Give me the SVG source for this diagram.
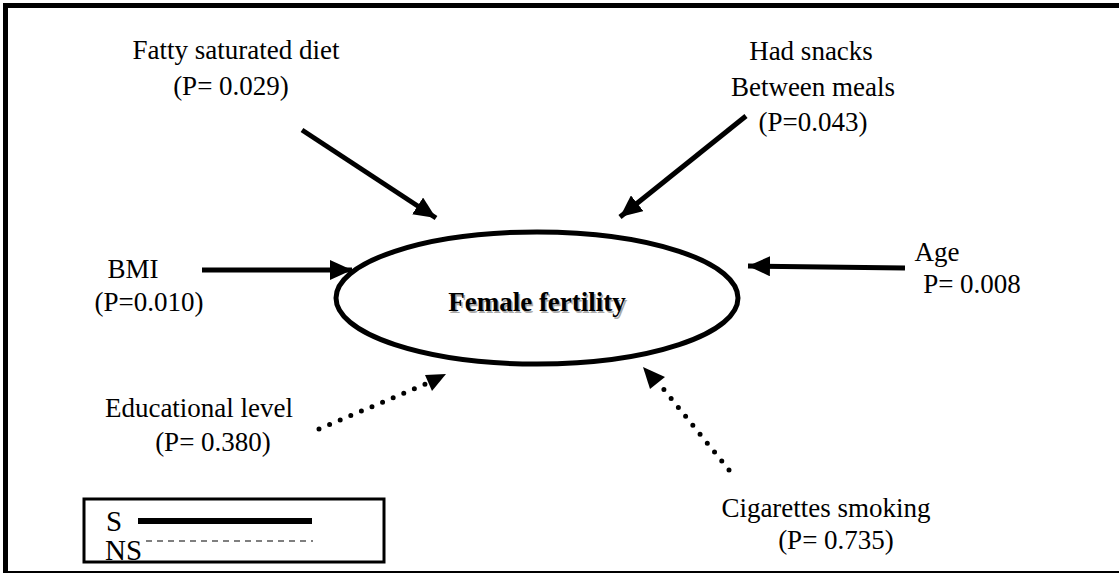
<svg xmlns="http://www.w3.org/2000/svg" width="1119" height="573" viewBox="0 0 1119 573">
<style>
text{font-family:"Liberation Serif","Times New Roman",Times,"DejaVu Serif",serif;font-size:27px;fill:#000}
.c{text-anchor:middle}
.s{stroke:#000;stroke-width:5;fill:none}
.d{stroke:#000;stroke-width:5;fill:none;stroke-linecap:round;stroke-dasharray:0 11.5}
.lg{font-size:29px}
</style>
<defs>
<marker id="ah" markerUnits="userSpaceOnUse" markerWidth="24" markerHeight="20" refX="22" refY="10" orient="auto"><path d="M0,0 L22,10 L0,20 Z" fill="#000"/></marker>
</defs>
<rect x="5.5" y="5.5" width="1130" height="568" fill="#fff" stroke="#000" stroke-width="5"/>
<g id="connectors">
<line class="s" x1="302" y1="130" x2="436" y2="218" marker-end="url(#ah)"/>
<line class="s" x1="746" y1="116" x2="620" y2="217" marker-end="url(#ah)"/>
<line class="s" x1="202" y1="270" x2="352" y2="270" marker-end="url(#ah)"/>
<line class="s" x1="905" y1="268" x2="748" y2="266" marker-end="url(#ah)"/>
<line class="d" x1="319" y1="429" x2="428" y2="383"/>
<path d="M425,375 L446,374 L432,391 Z" fill="#000"/>
<line class="d" x1="729" y1="470" x2="657" y2="381"/>
<path d="M643,367 L665,377 L650,389 Z" fill="#000"/>
</g>
<g id="center">
<ellipse cx="537" cy="298" rx="201" ry="66" fill="#fff" stroke="#000" stroke-width="5"/>
<text class="c" x="538.5" y="312.5" font-weight="bold" style="fill:#aaa">Female fertility</text>
<text class="c" x="537" y="311" font-weight="bold">Female fertility</text>
</g>
<g id="fatty"><text class="c" x="236" y="59">Fatty saturated diet</text><text class="c" x="231" y="95">(P= 0.029)</text></g>
<g id="snacks"><text class="c" x="811" y="60">Had snacks</text><text class="c" x="813" y="96">Between meals</text><text class="c" x="813" y="131">(P=0.043)</text></g>
<g id="bmi"><text class="c" x="133" y="278">BMI</text><text class="c" x="149" y="311">(P=0.010)</text></g>
<g id="age"><text class="c" x="937" y="261">Age</text><text class="c" x="972" y="293">P= 0.008</text></g>
<g id="edu"><text class="c" x="199" y="417">Educational level</text><text class="c" x="213" y="451">(P= 0.380)</text></g>
<g id="cig"><text class="c" x="826" y="517">Cigarettes smoking</text><text class="c" x="836" y="549">(P= 0.735)</text></g>
<g id="legend">
<rect x="84" y="499" width="300" height="63" fill="#fff" stroke="#000" stroke-width="3"/>
<text class="lg" x="106" y="531">S</text>
<line x1="138" y1="521" x2="312" y2="521" stroke="#000" stroke-width="6"/>
<text class="lg" x="105" y="560">NS</text>
<line x1="146" y1="541" x2="313" y2="541" stroke="#000" stroke-width="1.2" stroke-dasharray="6 5"/>
</g>
</svg>
